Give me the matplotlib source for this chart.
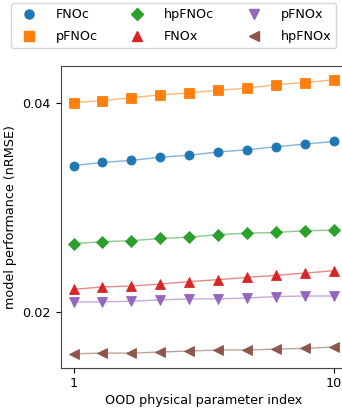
import matplotlib
matplotlib.use("Agg")
import matplotlib.pyplot as plt
from matplotlib.lines import Line2D
from matplotlib.ticker import FixedLocator, FixedFormatter, NullLocator

x = list(range(1, 11))
names = ["FNOc", "pFNOc", "hpFNOc", "FNOx", "pFNOx", "hpFNOx"]
fnoc = [0.03248, 0.03283, 0.03305, 0.0334, 0.03362, 0.03398, 0.03423, 0.03457, 0.03488, 0.03518]
pfnoc = [0.0400, 0.04026, 0.04066, 0.04103, 0.0413, 0.04167, 0.04194, 0.04244, 0.04272, 0.04314]
hpfnoc = [0.02510, 0.02527, 0.02535, 0.02554, 0.02565, 0.02586, 0.02599, 0.02605, 0.0262, 0.02625]
fnox = [0.02159, 0.02176, 0.02183, 0.02197, 0.02215, 0.02229, 0.02246, 0.02261, 0.02278, 0.02296]
pfnox = [0.02071, 0.02071, 0.02076, 0.02085, 0.02092, 0.02092, 0.02098, 0.02108, 0.02112, 0.02112]
hpfnox = [0.01745, 0.01749, 0.01749, 0.01755, 0.01761, 0.01767, 0.01767, 0.01772, 0.01777, 0.01784]
series = [fnoc, pfnoc, hpfnoc, fnox, pfnox, hpfnox]
colors = ["#1f77b4", "#ff7f0e", "#2ca02c", "#d62728", "#9467bd", "#8c564b"]
markers = ["o", "s", "D", "^", "v", "<"]
yticks = [0.02, 0.04]
ytick_labels = ["0.02", "0.04"]
xticks = [1, 10]
xtick_labels = ["1", "10"]

FS = 9.2
fig = plt.figure(figsize=(3.42, 4.08), dpi=100)
W, H = 342, 408
l, r, t, b = 60.5, 347, 66, 367.5
ax = fig.add_axes([l / W, 1 - b / H, (r - l) / W, (b - t) / H])

handles = []
for name, ys, c, m in zip(names, series, colors, markers):
    ax.plot(x, ys, color=c, alpha=0.55, lw=1, zorder=2)
    ax.plot(x, ys, linestyle="none", marker=m, color=c, ms=6.5,
            mec=c, mew=0.6, zorder=3)
    handles.append(Line2D([], [], linestyle="none", marker=m, color=c, ms=6.5, label=name))

ax.set_yscale("log")
ax.yaxis.set_major_locator(FixedLocator(yticks))
ax.yaxis.set_major_formatter(FixedFormatter(ytick_labels))
ax.yaxis.set_minor_locator(NullLocator())
ax.set_xticks(xticks)
ax.set_xticklabels(xtick_labels)
ax.tick_params(labelsize=FS)
ax.set_xlabel("OOD physical parameter index", fontsize=FS, labelpad=3)
ax.set_ylabel("model performance (nRMSE)", fontsize=FS)
for s in ax.spines.values():
    s.set_color("#444444")

fig.legend(handles=handles, ncol=3, loc="upper left",
           bbox_to_anchor=(11 / W, 1 - 3 / H), borderaxespad=0, fontsize=FS,
           handletextpad=1.1, columnspacing=2.1, labelspacing=0.7, frameon=True)

fig.savefig("out.png", dpi=100)
